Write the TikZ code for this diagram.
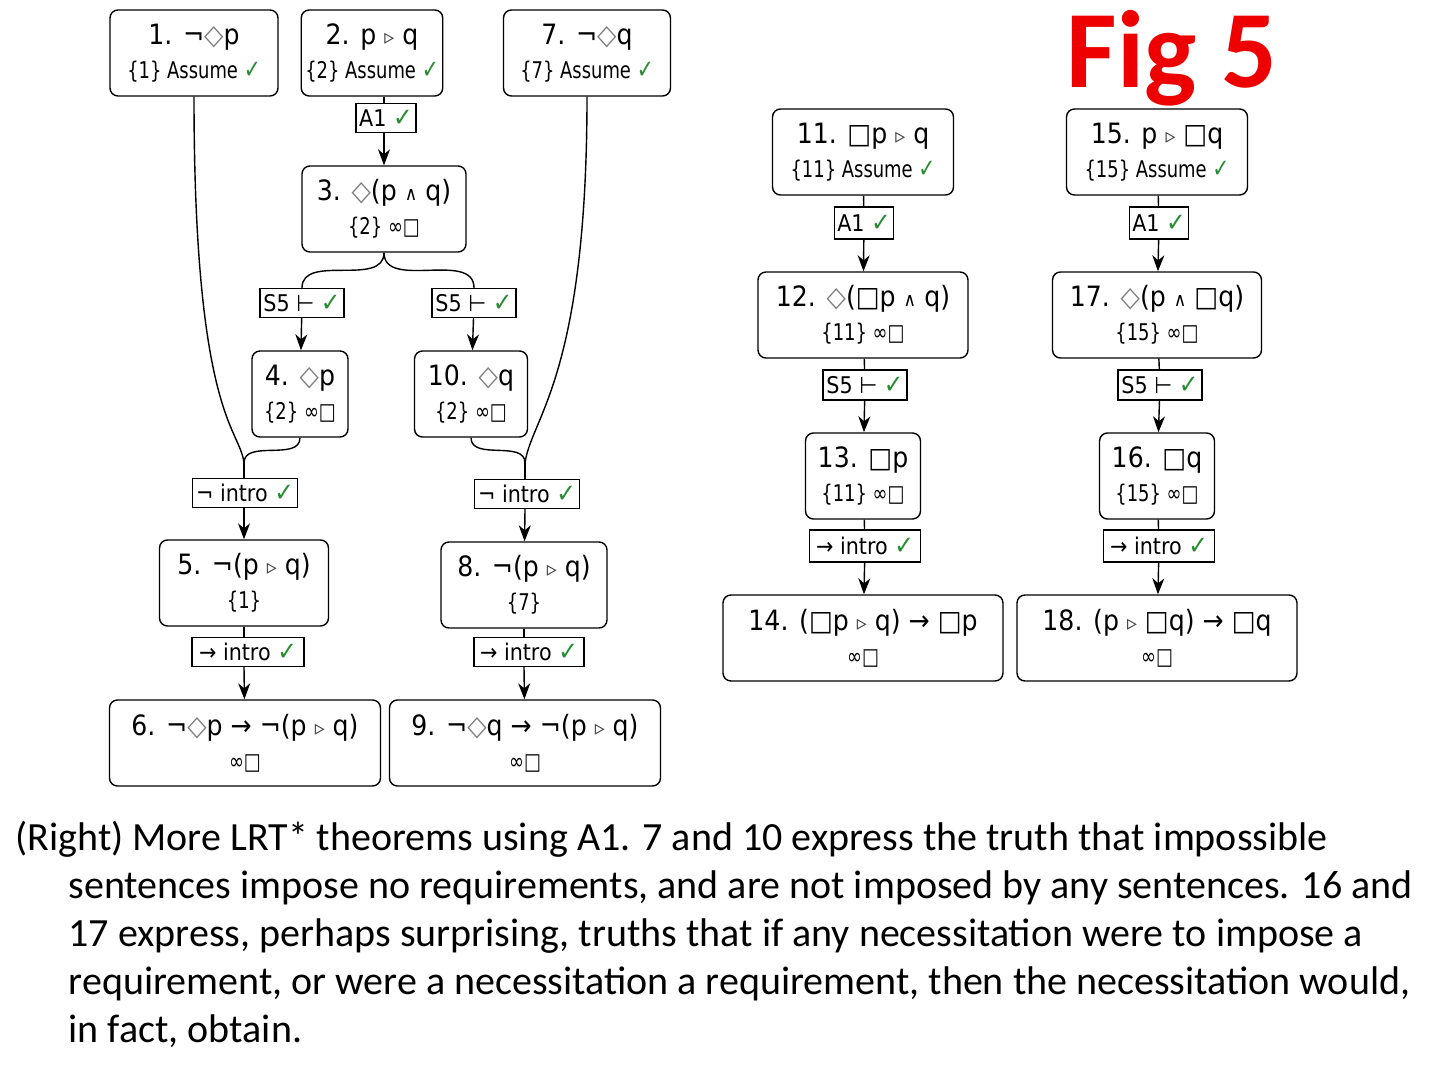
\documentclass[tikz,border=0pt]{standalone}
\usepackage{fontspec}
\usepackage{tikz}
\usetikzlibrary{arrows.meta}

\newfontfamily\boxfont[FakeStretch=0.9]{DejaVu Sans}
\newfontfamily\depfont[FakeStretch=0.78]{DejaVu Sans}
\newfontfamily\capfont{Carlito}

\definecolor{tickgreen}{RGB}{40,140,50}
\definecolor{symgray}{RGB}{125,125,125}
\definecolor{figred}{RGB}{238,0,0}

\newcommand{\ok}{\textcolor{tickgreen}{\fontsize{13}{13}\selectfont ✓}}
\newcommand{\dia}{\textcolor{symgray}{◇}}
\newcommand{\req}{{\fontsize{11}{11}\selectfont\textcolor{darkgray}{▹}}}
\newcommand{\wedg}{{\fontsize{9.5}{9.5}\selectfont ∧}}
\newcommand{\deps}[1]{{\depfont\fontsize{11.5}{14}\selectfont #1}}

\tikzset{
	prop/.style={draw, line width=0.7pt, rounded corners=4pt, align=center, minimum height=43pt, inner xsep=2pt, font=\boxfont\fontsize{14}{17}\selectfont},
	rule/.style={draw, line width=0.6pt, fill=white, inner xsep=1.5pt, inner ysep=1pt, minimum height=14.5pt, font=\boxfont\fontsize{11.5}{13}\selectfont},
	arr/.style={-{Stealth[length=8pt,width=6pt,inset=2.5pt]}},
}

\begin{document}
\begin{tikzpicture}[x=0.5pt, y=-0.5pt, line width=0.7pt]
	\useasboundingbox (0,0) rectangle (1440,1080);

	\node[prop, minimum width=84pt] (n1) at (194,53) {1. ¬\dia p\\\deps{\{1\} Assume \ok}};
	\node[prop, minimum width=70pt] (n2) at (372,53) {2. p \req{} q\\\deps{\{2\} Assume \ok}};
	\node[prop, minimum width=83.5pt] (n7) at (587,53) {7. ¬\dia q\\\deps{\{7\} Assume \ok}};
	\node[rule, minimum width=30pt] (r1) at (386,118) {A1 \ok};
	\node[prop, minimum width=82pt] (n3) at (384,209) {3. \dia(p \wedg{} q)\\\deps{\{2\} ∞□}};
	\node[rule, minimum width=42pt] (s5a) at (302,303) {S5 ⊢ \ok};
	\node[rule, minimum width=42pt] (s5b) at (474,303) {S5 ⊢ \ok};
	\node[prop, minimum width=48pt] (n4) at (300,394) {4. \dia p\\\deps{\{2\} ∞□}};
	\node[prop, minimum width=56.5pt] (n10) at (471,394) {10. \dia q\\\deps{\{2\} ∞□}};
	\coordinate (j1) at (244,463);
	\coordinate (j2) at (525,463);
	\node[rule, minimum width=52.5pt] (ni1) at (245,493) {¬ intro \ok};
	\node[rule, minimum width=52.5pt] (ni2) at (527,494) {¬ intro \ok};
	\node[prop, minimum width=84.5pt] (n5) at (244,583) {5. ¬(p \req{} q)\\\deps{\{1\}}};
	\node[prop, minimum width=83pt] (n8) at (524,585) {8. ¬(p \req{} q)\\\deps{\{7\}}};
	\node[rule, minimum width=56pt] (ri1) at (248,652) {→ intro \ok};
	\node[rule, minimum width=55pt] (ri2) at (529,652) {→ intro \ok};
	\node[prop, minimum width=135.5pt] (n6) at (245,743) {6. ¬\dia p → ¬(p \req{} q)\\\deps{∞□}};
	\node[prop, minimum width=135.5pt] (n9) at (525,743) {9. ¬\dia q → ¬(p \req{} q)\\\deps{∞□}};

	\node[prop, minimum width=90.5pt] (n11) at (863,152) {11. □p \req{} q\\\deps{\{11\} Assume \ok}};
	\node[rule, minimum width=29pt, minimum height=16pt] (ra) at (864,223) {A1 \ok};
	\node[prop, minimum width=105pt] (n12) at (863,315) {12. \dia(□p \wedg{} q)\\\deps{\{11\} ∞□}};
	\node[rule, minimum width=42pt, minimum height=15pt] (sa) at (865,385) {S5 ⊢ \ok};
	\node[prop, minimum width=57.5pt] (n13) at (863,476) {13. □p\\\deps{\{11\} ∞□}};
	\node[rule, minimum width=55.5pt, minimum height=16pt] (ia) at (865,546) {→ intro \ok};
	\node[prop, minimum width=140pt] (n14) at (863,638) {14. (□p \req{} q) → □p\\\deps{∞□}};

	\node[prop, minimum width=90.5pt] (n15) at (1157,152) {15. p \req{} □q\\\deps{\{15\} Assume \ok}};
	\node[rule, minimum width=29pt, minimum height=16pt] (rb) at (1159,223) {A1 \ok};
	\node[prop, minimum width=104.5pt] (n17) at (1157,315) {17. \dia(p \wedg{} □q)\\\deps{\{15\} ∞□}};
	\node[rule, minimum width=42pt, minimum height=15pt] (sb) at (1160,385) {S5 ⊢ \ok};
	\node[prop, minimum width=57.5pt] (n16) at (1157,476) {16. □q\\\deps{\{15\} ∞□}};
	\node[rule, minimum width=55.5pt, minimum height=16pt] (ib) at (1159,546) {→ intro \ok};
	\node[prop, minimum width=140pt] (n18) at (1157,638) {18. (p \req{} □q) → □q\\\deps{∞□}};

	\draw (n2.south -| n3) -- (n3 |- r1.north);
	\draw[arr] (n3 |- r1.south) -- (n3);
	\draw (n3.south) to[out=-90, in=90] (s5a.north);
	\draw (n3.south) to[out=-90, in=90] (s5b.north);
	\draw[arr] (s5a) -- (n4);
	\draw[arr] (s5b) -- (n10);
	\draw (n1.south) .. controls +(0,320) and +(-4,-35) .. (j1);
	\draw (n4.south) to[out=-90, in=90] (j1);
	\draw (n7.south) .. controls +(0,280) and +(6,-45) .. (j2);
	\draw (n10.south) to[out=-90, in=90] (j2);
	\draw (j1) -- (j1 |- ni1.north);
	\draw (j2) -- (j2 |- ni2.north);
	\draw[arr] (j1 |- ni1.south) -- (n5);
	\draw[arr] (j2 |- ni2.south) -- (n8);
	\draw (n5) -- (n5 |- ri1.north);
	\draw (n8) -- (n8 |- ri2.north);
	\draw[arr] (n5 |- ri1.south) -- (n6);
	\draw[arr] (n8 |- ri2.south) -- (n9);

	\draw (n11) -- (ra);
	\draw[arr] (ra) -- (n12);
	\draw (n12) -- (sa);
	\draw[arr] (sa) -- (n13);
	\draw (n13) -- (ia);
	\draw[arr] (ia) -- (n14);
	\draw (n15) -- (rb);
	\draw[arr] (rb) -- (n17);
	\draw (n17) -- (sb);
	\draw[arr] (sb) -- (n16);
	\draw (n16) -- (ib);
	\draw[arr] (ib) -- (n18);

	\node[anchor=base west, inner sep=0, text=figred, font=\capfont\bfseries\fontsize{55}{60}\selectfont] (fig) at (1066,88) {Fig 5};
	\node[anchor=north west, inner sep=0, align=left, font=\capfont\fontsize{20}{24}\selectfont] (cap) at (15,821) {(Right) More LRT* theorems using A1. 7 and 10 express the truth that impossible\\
		\hspace*{26.5pt}sentences impose no requirements, and are not imposed by any sentences. 16 and\\
		\hspace*{26.5pt}17 express, perhaps surprising, truths that if any necessitation were to impose a\\
		\hspace*{26.5pt}requirement, or were a necessitation a requirement, then the necessitation would,\\
		\hspace*{26.5pt}in fact, obtain.};
\end{tikzpicture}
\end{document}
